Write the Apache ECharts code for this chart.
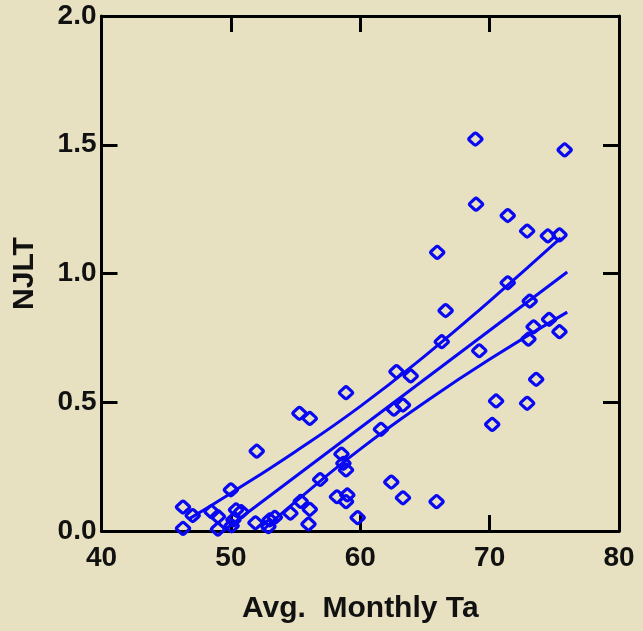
<!DOCTYPE html>
<html>
<head>
<meta charset="utf-8">
<script src="https://cdn.jsdelivr.net/npm/echarts@6/dist/echarts.min.js"></script>
<style>
html,body{margin:0;padding:0;background:#e7e1c1;}
#chart{width:643px;height:631px;}
</style>
</head>
<body>
<div id="chart"></div>
<script>
// Observed points: Avg. Monthly Ta (x) vs NJLT (y)
const obsTa = [46.3,46.3,47.05,48.5,49.0,49.0,50.0,50.4,50.8,50.2,50.06,52.0,51.9,53.0,53.4,52.9,54.6,55.4,56.1,56.0,56.9,55.3,56.1,66.3,62.8,63.9,58.9,63.3,62.6,61.6,58.55,58.7,58.9,62.4,63.3,65.9,58.2,59.0,58.9,59.8,68.9,75.8,68.95,71.4,72.9,74.5,75.4,65.95,71.4,73.1,66.6,69.2,73.4,74.6,75.4,73.0,73.6,70.5,72.9,70.2];
const obsNJLT = [0.093,0.01,0.06,0.075,0.056,0.007,0.16,0.082,0.075,0.043,0.02,0.31,0.032,0.043,0.053,0.017,0.069,0.115,0.084,0.027,0.2,0.457,0.437,0.735,0.619,0.602,0.537,0.489,0.473,0.395,0.299,0.263,0.237,0.19,0.129,0.114,0.133,0.14,0.114,0.052,1.522,1.48,1.269,1.225,1.165,1.146,1.15,1.082,0.964,0.893,0.856,0.70,0.793,0.822,0.774,0.745,0.589,0.505,0.496,0.414];

// Regression line and band
const fitTa = [49.4, 76.0];
const fitNJLT = [0.0, 1.006];
const upperTa = [46.8, 50, 55, 60, 65, 70, 75.5];
const upperNJLT = [0.048, 0.147, 0.309, 0.484, 0.680, 0.893, 1.138];
const lowerTa = [52.4, 55, 60, 65, 70, 76.0];
const lowerNJLT = [0.0, 0.114, 0.318, 0.500, 0.667, 0.850];

const xTicks = [40, 50, 60, 70, 80];
const yTicks = [0.0, 0.5, 1.0, 1.5, 2.0];

const blue = '#0808f2';
const ink = '#111';
const font = '"Liberation Sans", Arial, sans-serif';
const zip = (a, b) => a.map((v, i) => [v, b[i]]);
const roundDiamond = 'path://M-2,-8.6Q0,-10.5 2,-8.6L8.6,-2Q10.5,0 8.6,2L2,8.6Q0,10.5 -2,8.6L-8.6,2Q-10.5,0 -8.6,-2Z';

const chart = echarts.init(document.getElementById('chart'), null, {renderer: 'canvas'});

const axisLine = {show: true, onZero: false, lineStyle: {color: '#000', width: 3}};
const axisTick = {show: true, inside: true, length: 16, lineStyle: {color: '#000', width: 3}};

chart.setOption({
  backgroundColor: '#e7e1c1',
  animation: false,
  grid: {left: 101.5, right: 24, top: 16, bottom: 100, containLabel: false},
  xAxis: [{
    type: 'value', position: 'bottom',
    min: xTicks[0], max: xTicks[xTicks.length - 1], interval: 10,
    axisLine, axisTick,
    splitLine: {show: false},
    axisLabel: {color: ink, fontFamily: font, fontWeight: 'bold', fontSize: 28, margin: 13,
      formatter: v => String(v)},
    name: 'Avg.  Monthly Ta', nameLocation: 'middle', nameGap: 63,
    nameTextStyle: {color: ink, fontFamily: font, fontWeight: 'bold', fontSize: 30}
  }, {
    type: 'value', position: 'top',
    min: xTicks[0], max: xTicks[xTicks.length - 1], interval: 10,
    axisLine, axisTick, splitLine: {show: false}, axisLabel: {show: false}
  }],
  yAxis: [{
    type: 'value', position: 'left',
    min: yTicks[0], max: yTicks[yTicks.length - 1], interval: 0.5,
    axisLine, axisTick,
    splitLine: {show: false},
    axisLabel: {color: ink, fontFamily: font, fontWeight: 'bold', fontSize: 28, margin: 5,
      formatter: v => v.toFixed(1)},
    name: 'NJLT', nameLocation: 'middle', nameGap: 62, nameRotate: 90,
    nameTextStyle: {color: ink, fontFamily: font, fontWeight: 'bold', fontSize: 30}
  }, {
    type: 'value', position: 'right',
    min: yTicks[0], max: yTicks[yTicks.length - 1], interval: 0.5,
    axisLine, axisTick, splitLine: {show: false}, axisLabel: {show: false}
  }],
  series: [{
    type: 'line', data: zip(upperTa, upperNJLT), smooth: true, symbol: 'none',
    lineStyle: {color: blue, width: 3}, z: 2
  }, {
    type: 'line', data: zip(fitTa, fitNJLT), symbol: 'none',
    lineStyle: {color: blue, width: 3}, z: 2
  }, {
    type: 'line', data: zip(lowerTa, lowerNJLT), smooth: true, symbol: 'none',
    lineStyle: {color: blue, width: 3}, z: 2
  }, {
    type: 'scatter', data: zip(obsTa, obsNJLT),
    symbol: roundDiamond, symbolSize: [13, 12], symbolKeepAspect: false,
    itemStyle: {color: 'rgba(0,0,0,0)', borderColor: blue, borderWidth: 3.2, opacity: 1},
    z: 3
  }]
});
</script>
</body>
</html>
